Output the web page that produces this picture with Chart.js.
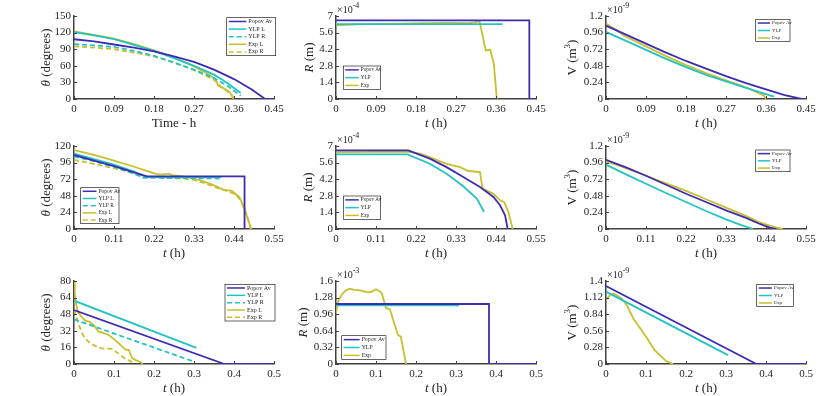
<!DOCTYPE html>
<html>
<head>
<meta charset="utf-8">
<script src="https://cdn.jsdelivr.net/npm/chart.js@4"></script>
<style>
  body { margin: 0; background: #fff; }
  #wrap { position: relative; width: 830px; height: 396px; overflow: hidden; }
  canvas { position: absolute; }
</style>
</head>
<body>
<div id="wrap"></div>
<script>
// ---- tick labels ----
const xTicksRow1 = [0, 0.09, 0.18, 0.27, 0.36, 0.45];
const xTicksRow2 = [0, 0.11, 0.22, 0.33, 0.44, 0.55];
const xTicksRow3 = [0, 0.1, 0.2, 0.3, 0.4, 0.5];
const yTicksTheta1 = [0, 30, 60, 90, 120, 150];
const yTicksTheta2 = [0, 24, 48, 72, 96, 120];
const yTicksTheta3 = [0, 16, 32, 48, 64, 80];
const yTicksR12 = [0, 1.4, 2.8, 4.2, 5.6, 7];      // x 1e-4
const yTicksR3 = [0, 0.32, 0.64, 0.96, 1.28, 1.6];  // x 1e-3
const yTicksV12 = [0, 0.24, 0.48, 0.72, 0.96, 1.2]; // x 1e-9
const yTicksV3 = [0, 0.28, 0.56, 0.84, 1.12, 1.4];  // x 1e-9

// ---- row 1 : [t (h), value] ----
const theta1_popov = [[0,108],[0.045,104],[0.09,98.5],[0.135,93],[0.18,86],[0.225,77],[0.27,67],[0.315,53],[0.36,36],[0.4,17],[0.43,0],[0.45,0]];
const theta1_ylpL = [[0,121],[0.045,115],[0.09,108],[0.135,98],[0.18,87],[0.225,74],[0.27,60],[0.315,44],[0.345,29],[0.36,20],[0.375,11]];
const theta1_ylpR = [[0,99],[0.045,97],[0.09,94],[0.135,87],[0.18,78],[0.225,66],[0.27,53],[0.315,38],[0.345,24],[0.36,15],[0.375,6]];
const theta1_expL = [[0,122],[0.045,116],[0.09,109],[0.135,99],[0.18,88],[0.225,75],[0.27,59],[0.3,46],[0.318,36],[0.325,24],[0.333,21],[0.348,14],[0.355,7],[0.359,0]];
const theta1_expR = [[0,95],[0.045,93],[0.09,90],[0.135,84],[0.18,77],[0.225,66],[0.27,52],[0.3,41],[0.318,33],[0.33,22],[0.345,14],[0.355,6],[0.36,0]];

const R1_popov = [[0,6.63],[0.435,6.63],[0.435,0],[0.45,0]];
const R1_ylp = [[0,6.32],[0.375,6.32]];
const R1_exp = [[0,6.22],[0.05,6.3],[0.1,6.33],[0.15,6.36],[0.2,6.4],[0.25,6.42],[0.3,6.4],[0.315,6.48],[0.323,6.55],[0.33,5.3],[0.337,4.1],[0.347,4.15],[0.355,3.0],[0.362,0]];

const V1_popov = [[0,1.06],[0.045,0.93],[0.09,0.8],[0.135,0.67],[0.18,0.55],[0.225,0.44],[0.27,0.33],[0.315,0.23],[0.36,0.14],[0.4,0.06],[0.44,0],[0.45,0]];
const V1_ylp = [[0,0.97],[0.045,0.84],[0.09,0.71],[0.135,0.58],[0.18,0.46],[0.225,0.35],[0.27,0.255],[0.315,0.16],[0.36,0.07],[0.378,0.035]];
const V1_exp = [[0,1.09],[0.02,1.01],[0.045,0.9],[0.09,0.76],[0.135,0.62],[0.18,0.49],[0.225,0.375],[0.27,0.27],[0.315,0.17],[0.345,0.08],[0.355,0.05],[0.36,0]];

// ---- row 2 ----
const theta2_popov = [[0,107],[0.055,99],[0.11,91],[0.165,82],[0.2,76],[0.469,76],[0.469,0]];
const theta2_ylpL = [[0,109],[0.055,101],[0.11,93],[0.165,83],[0.19,77],[0.2,75],[0.405,75]];
const theta2_ylpR = [[0,105],[0.055,98],[0.11,90],[0.165,80],[0.19,74],[0.405,73]];
const theta2_expL = [[0,114],[0.055,107],[0.11,99],[0.165,90],[0.2,84],[0.23,79],[0.25,79],[0.26,80],[0.27,78],[0.3,76],[0.33,73],[0.36,68],[0.39,62],[0.41,57],[0.434,55],[0.455,46],[0.469,29],[0.478,15],[0.487,0]];
const theta2_expR = [[0,100],[0.055,94],[0.11,88],[0.165,81],[0.2,76],[0.25,74],[0.3,73],[0.33,71],[0.36,66],[0.39,60],[0.42,55],[0.445,50],[0.46,40],[0.47,26],[0.48,12],[0.486,0]];

const R2_popov = [[0,6.63],[0.199,6.63],[0.258,5.93],[0.304,5.22],[0.35,4.38],[0.396,3.54],[0.433,2.7],[0.451,2.0],[0.465,1.15],[0.472,0]];
const R2_ylp = [[0,6.3],[0.197,6.3],[0.258,5.5],[0.304,4.66],[0.35,3.6],[0.387,2.56],[0.407,1.46]];
const R2_exp = [[0,6.49],[0.1,6.5],[0.195,6.52],[0.231,6.35],[0.268,5.93],[0.304,5.5],[0.341,5.22],[0.364,4.89],[0.396,4.8],[0.403,3.4],[0.433,2.98],[0.451,2.42],[0.462,2.28],[0.474,1.43],[0.486,0]];

const V2_popov = [[0,1.0],[0.055,0.89],[0.11,0.77],[0.165,0.64],[0.22,0.51],[0.275,0.39],[0.33,0.27],[0.385,0.16],[0.42,0.08],[0.45,0.02],[0.466,0]];
const V2_ylp = [[0,0.93],[0.055,0.79],[0.11,0.655],[0.165,0.52],[0.22,0.39],[0.275,0.26],[0.33,0.14],[0.37,0.06],[0.405,0]];
const V2_exp = [[0,0.98],[0.055,0.88],[0.11,0.77],[0.165,0.66],[0.22,0.55],[0.275,0.43],[0.33,0.31],[0.385,0.19],[0.42,0.1],[0.45,0.05],[0.47,0.02],[0.486,0]];

// ---- row 3 ----
const theta3_popov = [[0,52],[0.376,0],[0.5,0]];
const theta3_ylpL = [[0,61],[0.306,15.5]];
const theta3_ylpR = [[0,43],[0.302,2]];
const theta3_expL = [[0,80],[0.002,69],[0.005,58],[0.01,50],[0.018,46],[0.027,42],[0.04,40.5],[0.05,37],[0.062,31],[0.07,30.5],[0.087,28],[0.103,23],[0.12,17],[0.128,14],[0.137,13.5],[0.145,6],[0.153,4],[0.166,2],[0.172,0]];
const theta3_expR = [[0,52],[0.01,40.5],[0.018,31],[0.027,25],[0.04,20],[0.055,17],[0.07,15],[0.095,14.5],[0.11,10.5],[0.128,5],[0.14,3],[0.152,0]];

const R3_popov = [[0,1.157],[0.3825,1.157],[0.3825,0],[0.5,0]];
const R3_ylp = [[0,1.13],[0.3075,1.13]];
const R3_exp = [[0,0.98],[0.005,1.2],[0.015,1.35],[0.025,1.42],[0.035,1.45],[0.045,1.43],[0.06,1.42],[0.075,1.39],[0.085,1.38],[0.095,1.42],[0.1,1.44],[0.11,1.4],[0.115,1.35],[0.125,1.08],[0.135,1.05],[0.145,0.8],[0.155,0.56],[0.162,0.53],[0.175,0]];

const V3_popov = [[0,1.315],[0.376,0],[0.5,0]];
const V3_ylp = [[0,1.22],[0.305,0.15]];
const V3_exp = [[0,1.08],[0.011,1.17],[0.019,1.19],[0.04,1.1],[0.052,0.99],[0.069,0.76],[0.089,0.57],[0.106,0.4],[0.122,0.23],[0.139,0.12],[0.151,0.045],[0.168,0]];

// ---- styling ----
const BLUE = '#3e2db2';
const CYAN = '#23c3c3';
const YELLOW = '#c8bf2e';
const AXIS = '#404040';
const TEXT = '#1f1f1f';
const FONT = 'Liberation Serif';

const colLeft = [74, 336, 606];
const rowTop = [16, 146, 281];
const canvasX = [0, 280, 556];
const canvasW = [290, 270, 274];
const canvasY = [0, 130, 262];
const CANVAS_H = 134;
const PLOT_W = 200, PLOT_H = 83;

function ds(label, pts, color, dashed) {
  return {
    label: label,
    data: pts.map(p => ({ x: p[0], y: p[1] })),
    borderColor: color,
    borderWidth: 1.8,
    borderDash: dashed ? [5, 3] : [],
    pointRadius: 0,
    fill: false,
    tension: 0
  };
}

function richWidth(ctx, segs) {
  let w = 0;
  segs.forEach(s => {
    ctx.font = (s.i ? 'italic ' : '') + (s.sup ? 9 : 13) + 'px ' + FONT;
    w += ctx.measureText(s.t).width;
  });
  return w;
}

function drawRich(ctx, segs, x, y) {
  let cx = x - richWidth(ctx, segs) / 2;
  segs.forEach(s => {
    ctx.font = (s.i ? 'italic ' : '') + (s.sup ? 9 : 13) + 'px ' + FONT;
    ctx.fillText(s.t, cx, y + (s.sup ? -5 : 0));
    cx += ctx.measureText(s.t).width;
  });
}

const panelDeco = {
  id: 'panelDeco',
  afterDraw(chart) {
    const o = chart.options.plugins.panelDeco;
    const { ctx, chartArea: a, scales } = chart;
    ctx.save();
    // inward tick marks
    ctx.strokeStyle = AXIS;
    ctx.lineWidth = 1;
    ctx.beginPath();
    scales.x.ticks.forEach(t => {
      const px = Math.round(scales.x.getPixelForValue(t.value)) + 0.5;
      ctx.moveTo(px, a.bottom); ctx.lineTo(px, a.bottom - 3);
    });
    scales.y.ticks.forEach(t => {
      const py = Math.round(scales.y.getPixelForValue(t.value)) + 0.5;
      ctx.moveTo(a.left, py); ctx.lineTo(a.left + 3, py);
    });
    ctx.stroke();

    ctx.fillStyle = TEXT;
    ctx.textAlign = 'left';
    // x title
    ctx.textBaseline = 'alphabetic';
    drawRich(ctx, o.xTitle, (a.left + a.right) / 2, a.bottom + 28);
    // y title
    ctx.save();
    ctx.translate(a.left - o.yTitleOff, (a.top + a.bottom) / 2);
    ctx.rotate(-Math.PI / 2);
    ctx.textBaseline = 'middle';
    drawRich(ctx, o.yTitle, 0, 0);
    ctx.restore();
    // exponent
    if (o.exp) {
      ctx.textBaseline = 'alphabetic';
      ctx.font = '10px ' + FONT;
      ctx.fillText('\u00d710', a.left + 1, a.top - 3);
      const w = ctx.measureText('\u00d710').width;
      ctx.font = '8px ' + FONT;
      ctx.fillText(o.exp, a.left + 1 + w, a.top - 8);
    }
    // legend box
    const L = o.legend;
    const bx = a.left + L.x, by = a.top + L.y;
    ctx.fillStyle = '#fff';
    ctx.fillRect(bx, by, L.w, L.h);
    ctx.strokeStyle = '#000';
    ctx.lineWidth = 0.6;
    ctx.strokeRect(bx, by, L.w, L.h);
    const n = chart.data.datasets.length;
    const rh = L.h / n;
    const lineLen = L.w * 0.36;
    chart.data.datasets.forEach((d, i) => {
      const yy = by + rh * (i + 0.5);
      ctx.strokeStyle = d.borderColor;
      ctx.lineWidth = 1.5;
      ctx.setLineDash(d.borderDash);
      ctx.beginPath();
      ctx.moveTo(bx + 2, yy); ctx.lineTo(bx + 2 + lineLen, yy);
      ctx.stroke();
      ctx.setLineDash([]);
      ctx.fillStyle = TEXT;
      ctx.font = L.f + 'px ' + FONT;
      ctx.textBaseline = 'middle';
      ctx.fillText(d.label, bx + lineLen + 4, yy);
    });
    ctx.restore();
  }
};

function makePanel(row, col, cfg) {
  const canvas = document.createElement('canvas');
  const cw = canvasW[col], chh = CANVAS_H;
  canvas.width = cw; canvas.height = chh;
  canvas.style.left = canvasX[col] + 'px';
  canvas.style.top = canvasY[row] + 'px';
  document.getElementById('wrap').appendChild(canvas);

  const plotL = colLeft[col], plotT = rowTop[row];
  const yWidth = plotL - canvasX[col];
  const xHeight = canvasY[row] + chh - (plotT + PLOT_H);
  const tickFont = { family: FONT, size: 11 };
  const fmt = v => String(v);

  new Chart(canvas, {
    type: 'line',
    data: { datasets: cfg.datasets },
    options: {
      responsive: false,
      animation: false,
      devicePixelRatio: 1,
      layout: { padding: { left: 0, top: plotT - canvasY[row], right: canvasX[col] + cw - (plotL + PLOT_W), bottom: 0 } },
      plugins: {
        legend: { display: false },
        tooltip: { enabled: false },
        panelDeco: cfg.deco
      },
      scales: {
        x: {
          type: 'linear', min: cfg.xTicks[0], max: cfg.xTicks[cfg.xTicks.length - 1],
          afterBuildTicks: s => { s.ticks = cfg.xTicks.map(v => ({ value: v })); },
          afterFit: s => { s.height = xHeight; },
          grid: { display: false, drawTicks: false },
          border: { display: true, color: AXIS, width: 1.5 },
          ticks: { font: tickFont, color: TEXT, padding: 4, maxRotation: 0, autoSkip: false, callback: fmt }
        },
        y: {
          type: 'linear', min: cfg.yTicks[0], max: cfg.yTicks[cfg.yTicks.length - 1],
          afterBuildTicks: s => { s.ticks = cfg.yTicks.map(v => ({ value: v })); },
          afterFit: s => { s.width = yWidth; },
          grid: { display: false, drawTicks: false },
          border: { display: true, color: AXIS, width: 1.5 },
          ticks: { font: tickFont, color: TEXT, padding: 3, autoSkip: false, callback: fmt }
        }
      }
    },
    plugins: [panelDeco]
  });
}

const T_TITLE = [{ t: 't', i: true }, { t: ' (h)' }];
const THETA_TITLE = [{ t: '\u03b8', i: true }, { t: ' (degrees)' }];
const R_TITLE = [{ t: 'R', i: true }, { t: ' (m)' }];
const V_TITLE = [{ t: 'V (m' }, { t: '3', sup: true }, { t: ')' }];

// row 1
makePanel(0, 0, {
  xTicks: xTicksRow1, yTicks: yTicksTheta1,
  datasets: [ds('Popov Av', theta1_popov, BLUE), ds('YLP L', theta1_ylpL, CYAN), ds('YLP R', theta1_ylpR, CYAN, true), ds('Exp L', theta1_expL, YELLOW), ds('Exp R', theta1_expR, YELLOW, true)],
  deco: { xTitle: [{ t: 'Time - h' }], yTitle: THETA_TITLE, yTitleOff: 27, legend: { x: 152.7, y: 1.7, w: 49, h: 38, f: 6 } }
});
makePanel(0, 1, {
  xTicks: xTicksRow1, yTicks: yTicksR12,
  datasets: [ds('Popov Av', R1_popov, BLUE), ds('YLP', R1_ylp, CYAN), ds('Exp', R1_exp, YELLOW)],
  deco: { xTitle: T_TITLE, yTitle: R_TITLE, yTitleOff: 26, exp: '-4', legend: { x: 7.3, y: 50, w: 37.4, h: 23.3, f: 5.2 } }
});
makePanel(0, 2, {
  xTicks: xTicksRow1, yTicks: yTicksV12,
  datasets: [ds('Popov Av', V1_popov, BLUE), ds('YLP', V1_ylp, CYAN), ds('Exp', V1_exp, YELLOW)],
  deco: { xTitle: T_TITLE, yTitle: V_TITLE, yTitleOff: 33, exp: '-9', legend: { x: 149.7, y: 3.3, w: 34.3, h: 22.4, f: 5 } }
});
// row 2
makePanel(1, 0, {
  xTicks: xTicksRow2, yTicks: yTicksTheta2,
  datasets: [ds('Popov Av', theta2_popov, BLUE), ds('YLP L', theta2_ylpL, CYAN), ds('YLP R', theta2_ylpR, CYAN, true), ds('Exp L', theta2_expL, YELLOW), ds('Exp R', theta2_expR, YELLOW, true)],
  deco: { xTitle: T_TITLE, yTitle: THETA_TITLE, yTitleOff: 27, legend: { x: 6.7, y: 41.7, w: 38.3, h: 36, f: 5.5 } }
});
makePanel(1, 1, {
  xTicks: xTicksRow2, yTicks: yTicksR12,
  datasets: [ds('Popov Av', R2_popov, BLUE), ds('YLP', R2_ylp, CYAN), ds('Exp', R2_exp, YELLOW)],
  deco: { xTitle: T_TITLE, yTitle: R_TITLE, yTitleOff: 27, exp: '-4', legend: { x: 7.3, y: 50, w: 37.4, h: 23.3, f: 5.2 } }
});
makePanel(1, 2, {
  xTicks: xTicksRow2, yTicks: yTicksV12,
  datasets: [ds('Popov Av', V2_popov, BLUE), ds('YLP', V2_ylp, CYAN), ds('Exp', V2_exp, YELLOW)],
  deco: { xTitle: T_TITLE, yTitle: V_TITLE, yTitleOff: 33, exp: '-9', legend: { x: 149.7, y: 4, w: 34.3, h: 21.7, f: 5 } }
});
// row 3
makePanel(2, 0, {
  xTicks: xTicksRow3, yTicks: yTicksTheta3,
  datasets: [ds('Popov Av', theta3_popov, BLUE), ds('YLP L', theta3_ylpL, CYAN), ds('YLP R', theta3_ylpR, CYAN, true), ds('Exp L', theta3_expL, YELLOW), ds('Exp R', theta3_expR, YELLOW, true)],
  deco: { xTitle: T_TITLE, yTitle: THETA_TITLE, yTitleOff: 27, legend: { x: 151, y: 3.3, w: 50, h: 36.7, f: 6 } }
});
makePanel(2, 1, {
  xTicks: xTicksRow3, yTicks: yTicksR3,
  datasets: [ds('Popov Av', R3_popov, BLUE), ds('YLP', R3_ylp, CYAN), ds('Exp', R3_exp, YELLOW)],
  deco: { xTitle: T_TITLE, yTitle: R_TITLE, yTitleOff: 32, exp: '-3', legend: { x: 5.7, y: 54.7, w: 44.3, h: 23.6, f: 5.8 } }
});
makePanel(2, 2, {
  xTicks: xTicksRow3, yTicks: yTicksV3,
  datasets: [ds('Popov Av', V3_popov, BLUE), ds('YLP', V3_ylp, CYAN), ds('Exp', V3_exp, YELLOW)],
  deco: { xTitle: T_TITLE, yTitle: V_TITLE, yTitleOff: 33, exp: '-9', legend: { x: 150.7, y: 3.3, w: 36.6, h: 22.4, f: 5 } }
});
</script>
</body>
</html>
